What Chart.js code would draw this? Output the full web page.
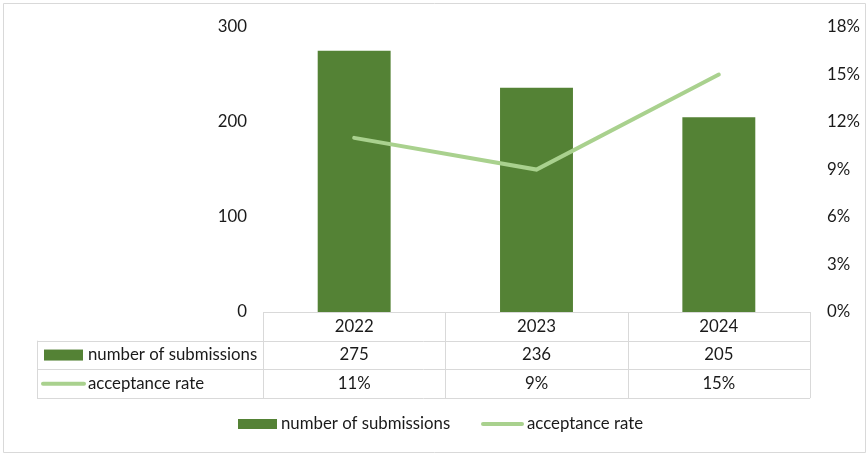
<!DOCTYPE html>
<html>
<head>
<meta charset="utf-8">
<script src="https://cdn.jsdelivr.net/npm/chart.js@4/dist/chart.umd.min.js"></script>
<style>
  html, body { margin: 0; padding: 0; background: #fff; }
  #wrap { position: relative; width: 867px; height: 454px; }
</style>
</head>
<body>
<div id="wrap"><canvas id="c"></canvas></div>
<script>
const years = ['2022', '2023', '2024'];
const submissions = [275, 236, 205];
const acceptRate = [11, 9, 15];          // percent
const leftTicks = [0, 100, 200, 300];
const rightTicks = [0, 3, 6, 9, 12, 15, 18];

const barColor = '#548235';
const lineColor = '#A9D18E';
const gridColor = '#D9D9D9';
const txt = '#1a1a1a';
const FONT = 'Lato, "Liberation Sans", sans-serif';
const FS = 16.8;

// data table + legend drawn under the plot
const tablePlugin = {
  id: 'dataTable',
  afterDraw(chart) {
    const ctx = chart.ctx;
    const x = chart.scales.x;
    const area = chart.chartArea;
    const colW = (area.right - area.left) / years.length;
    const rowH = 28.7;
    const top = area.bottom;
    const leftEdge = 37;
    const ds = chart.data.datasets;

    ctx.save();
    ctx.strokeStyle = gridColor;
    ctx.lineWidth = 1;
    ctx.beginPath();
    // header row
    ctx.moveTo(area.left, top + 0.5); ctx.lineTo(area.right, top + 0.5);
    for (let r = 1; r <= 3; r++) {
      const y = Math.round(top + r * rowH) + 0.5;
      ctx.moveTo(leftEdge, y); ctx.lineTo(area.right, y);
    }
    for (let i = 0; i <= years.length; i++) {
      const xx = Math.round(area.left + i * colW) + 0.5;
      ctx.moveTo(xx, top); ctx.lineTo(xx, top + 3 * rowH);
    }
    ctx.moveTo(leftEdge + 0.5, top + rowH); ctx.lineTo(leftEdge + 0.5, top + 3 * rowH);
    // outer chart border
    ctx.rect(3.5, 3.5, 862, 449);
    ctx.stroke();

    ctx.fillStyle = txt;
    ctx.font = FS + 'px ' + FONT;
    ctx.textBaseline = 'middle';
    ctx.textAlign = 'center';
    years.forEach((yr, i) => {
      const cx = x.getPixelForValue(i);
      ctx.fillText(yr, cx, top + rowH * 0.5);
      ctx.fillText(String(submissions[i]), cx, top + rowH * 1.5);
      ctx.fillText(acceptRate[i] + '%', cx, top + rowH * 2.5);
    });

    // row keys
    ctx.textAlign = 'left';
    ctx.fillStyle = ds[0].backgroundColor;
    ctx.fillRect(44, top + rowH * 1.5 - 5.5, 39, 11);
    ctx.strokeStyle = ds[1].borderColor;
    ctx.lineWidth = 4;
    ctx.lineCap = 'round';
    ctx.beginPath();
    ctx.moveTo(43, top + rowH * 2.5); ctx.lineTo(84, top + rowH * 2.5);
    ctx.stroke();
    ctx.fillStyle = txt;
    ctx.fillText(ds[0].label, 88, top + rowH * 1.5);
    ctx.fillText(ds[1].label, 88, top + rowH * 2.5);

    // bottom legend
    const ly = 424;
    ctx.fillStyle = ds[0].backgroundColor;
    ctx.fillRect(238, ly - 5, 39, 10);
    ctx.beginPath();
    ctx.moveTo(483, ly); ctx.lineTo(522, ly);
    ctx.stroke();
    ctx.fillStyle = txt;
    ctx.fillText(ds[0].label, 281, ly);
    ctx.fillText(ds[1].label, 527, ly);
    ctx.restore();
  }
};

new Chart(document.getElementById('c').getContext('2d'), {
  data: {
    labels: years,
    datasets: [
      { type: 'bar', label: 'number of submissions', data: submissions, yAxisID: 'y',
        backgroundColor: barColor, categoryPercentage: 1, barPercentage: 0.4, order: 1 },
      { type: 'line', label: 'acceptance rate', data: acceptRate, yAxisID: 'y2',
        borderColor: lineColor, backgroundColor: lineColor, borderWidth: 4,
        borderCapStyle: 'round', pointRadius: 0, tension: 0, order: 0 },
    ]
  },
  options: {
    responsive: true, maintainAspectRatio: false,
    animation: false,
    layout: { padding: { top: 25, bottom: 142, left: 0, right: 0 } },
    scales: {
      x: { type: 'category', display: false, offset: true },
      y: { position: 'left', min: 0, max: 300,
        afterFit: s => { s.width = 263; },
        afterBuildTicks: s => { s.ticks = leftTicks.map(v => ({ value: v })); },
        grid: { display: false, drawTicks: false }, border: { display: false },
        ticks: { color: txt, padding: 16, font: { size: FS, family: FONT } } },
      y2: { position: 'right', min: 0, max: 18,
        afterFit: s => { s.width = 57; },
        afterBuildTicks: s => { s.ticks = rightTicks.map(v => ({ value: v })); },
        grid: { display: false, drawTicks: false }, border: { display: false },
        ticks: { color: txt, padding: 17, font: { size: FS, family: FONT }, callback: v => v + '%' } },
    },
    plugins: {
      legend: { display: false },
      tooltip: { enabled: false },
    },
  },
  plugins: [tablePlugin]
});
</script>
</body>
</html>
